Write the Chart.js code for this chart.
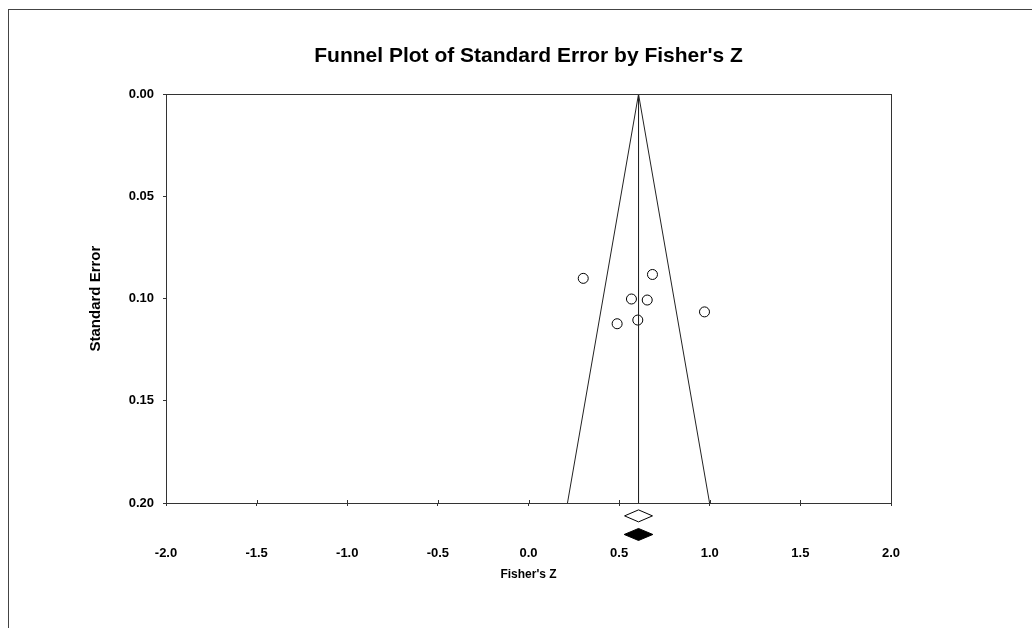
<!DOCTYPE html>
<html>
<head>
<meta charset="utf-8">
<title>Funnel Plot of Standard Error by Fisher's Z</title>
<script src="https://cdn.jsdelivr.net/npm/chart.js@4/dist/chart.umd.min.js"></script>
<style>
  html, body { margin: 0; padding: 0; background: #fff; }
  canvas { display: block; }
</style>
</head>
<body>
<canvas id="funnelChart" width="1032" height="628"></canvas>
<script>
// study values
const fisherZ = [0.302, 0.684, 0.568, 0.655, 0.971, 0.489, 0.603];
const stdErr = [0.0901, 0.0882, 0.1002, 0.1007, 0.1065, 0.1123, 0.1105];

// funnel (pseudo 95% limits) and the summary line
const funnelZ = [0.215, 0.607, 0.999];
const funnelSE = [0.2, 0, 0.2];
const centerZ = [0.607, 0.607];
const centerSE = [0, 0.2];

// summary diamonds under the axis (open, filled)
const diamondLow = [0.530, 0.528];
const diamondMid = [0.607, 0.607];
const diamondHigh = [0.684, 0.686];
const diamondRow = [0.2063, 0.2154];
const diamondFilled = [false, true];

const xTicks = [-2.0, -1.5, -1.0, -0.5, 0.0, 0.5, 1.0, 1.5, 2.0];
const yTicks = [0.00, 0.05, 0.10, 0.15, 0.20];

const fontFamily = "'Liberation Sans', Arial, sans-serif";

function toPoints(xs, ys) {
    return xs.map(function(x, i) { return { x: x, y: ys[i] }; });
}

const framePlugin = {
    id: 'frame',
    beforeDraw: function(chart) {
        const ctx = chart.ctx;
        ctx.save();
        ctx.fillStyle = '#fff';
        ctx.fillRect(0, 0, chart.width, chart.height);
        ctx.strokeStyle = '#444';
        ctx.lineWidth = 1;
        ctx.strokeRect(8.5, 9.5, chart.width + 20, chart.height + 20);
        ctx.restore();
    },
    afterDraw: function(chart) {
        const a = chart.chartArea;
        const ctx = chart.ctx;
        ctx.save();
        ctx.strokeStyle = '#333';
        ctx.lineWidth = 1;
        ctx.strokeRect(Math.round(a.left) + 0.5, Math.round(a.top) + 0.5,
            Math.round(a.right - a.left), Math.round(a.bottom - a.top));
        // x ticks cross the axis line: add the short part above it
        const xs = chart.scales.x;
        ctx.beginPath();
        xTicks.forEach(function(v) {
            const px = Math.round(xs.getPixelForValue(v)) + 0.5;
            ctx.moveTo(px, a.bottom - 3);
            ctx.lineTo(px, a.bottom);
        });
        ctx.stroke();
        ctx.restore();
    }
};

// draws the summary diamonds below the x axis from the scale values
const diamondPlugin = {
    id: 'diamonds',
    afterDraw: function(chart) {
        const xs = chart.scales.x;
        const ys = chart.scales.y;
        const ctx = chart.ctx;
        const half = 6;
        ctx.save();
        for (let i = 0; i < diamondRow.length; i++) {
            const x0 = xs.getPixelForValue(diamondLow[i]);
            const xm = xs.getPixelForValue(diamondMid[i]);
            const x1 = xs.getPixelForValue(diamondHigh[i]);
            const yc = ys.getPixelForValue(diamondRow[i]);
            ctx.beginPath();
            ctx.moveTo(x0, yc);
            ctx.lineTo(xm, yc - half);
            ctx.lineTo(x1, yc);
            ctx.lineTo(xm, yc + half);
            ctx.closePath();
            ctx.fillStyle = diamondFilled[i] ? '#000' : '#fff';
            ctx.fill();
            ctx.strokeStyle = '#000';
            ctx.lineWidth = 1;
            ctx.stroke();
        }
        ctx.restore();
    }
};

const ctx = document.getElementById('funnelChart').getContext('2d');
const chart = new Chart(ctx, {
    type: 'scatter',
    data: {
        datasets: [
            {
                label: 'Funnel',
                data: toPoints(funnelZ, funnelSE),
                showLine: true,
                borderColor: '#222',
                borderWidth: 1,
                pointRadius: 0,
                fill: false
            },
            {
                label: 'Summary',
                data: toPoints(centerZ, centerSE),
                showLine: true,
                borderColor: '#222',
                borderWidth: 1,
                pointRadius: 0,
                fill: false
            },
            {
                label: 'Studies',
                data: toPoints(fisherZ, stdErr),
                pointStyle: 'circle',
                pointRadius: 5,
                pointBorderWidth: 1,
                pointBorderColor: '#000',
                pointBackgroundColor: 'rgba(255,255,255,0)'
            }
        ]
    },
    options: {
        responsive: false,
        animation: false,
        events: [],
        layout: { padding: { left: 0, right: 141, top: 0, bottom: 0 } },
        plugins: {
            legend: { display: false },
            tooltip: { enabled: false },
            title: {
                display: true,
                fullSize: false,
                text: "Funnel Plot of Standard Error by Fisher's Z",
                color: '#000',
                font: { family: fontFamily, size: 21, weight: 'bold' },
                padding: { top: 44, bottom: 25 }
            }
        },
        scales: {
            x: {
                type: 'linear',
                min: -2,
                max: 2,
                afterFit: function(scale) { scale.height = 125; },
                afterBuildTicks: function(scale) {
                    scale.ticks = xTicks.map(function(v) { return { value: v }; });
                },
                ticks: {
                    color: '#000',
                    padding: 40,
                    font: { family: fontFamily, size: 13, weight: 'bold' },
                    callback: function(v) { return Number(v).toFixed(1); }
                },
                grid: { drawOnChartArea: false, tickLength: 3, color: '#333' },
                border: { color: '#333' },
                title: {
                    display: true,
                    text: "Fisher's Z",
                    color: '#000',
                    font: { family: fontFamily, size: 12, weight: 'bold' },
                    padding: { top: 0, bottom: 46 }
                }
            },
            y: {
                type: 'linear',
                reverse: true,
                min: 0,
                max: 0.2,
                afterFit: function(scale) { scale.width = 166; },
                afterBuildTicks: function(scale) {
                    scale.ticks = yTicks.map(function(v) { return { value: v }; });
                },
                ticks: {
                    color: '#000',
                    padding: 9,
                    font: { family: fontFamily, size: 13, weight: 'bold' },
                    callback: function(v) { return Number(v).toFixed(2); }
                },
                grid: { drawOnChartArea: false, tickLength: 3, color: '#333' },
                border: { color: '#333' },
                title: {
                    display: true,
                    text: 'Standard Error',
                    color: '#000',
                    font: { family: fontFamily, size: 15, weight: 'bold' },
                    padding: { top: 87, bottom: 0 }
                }
            }
        }
    },
    plugins: [framePlugin, diamondPlugin]
});
</script>
</body>
</html>
